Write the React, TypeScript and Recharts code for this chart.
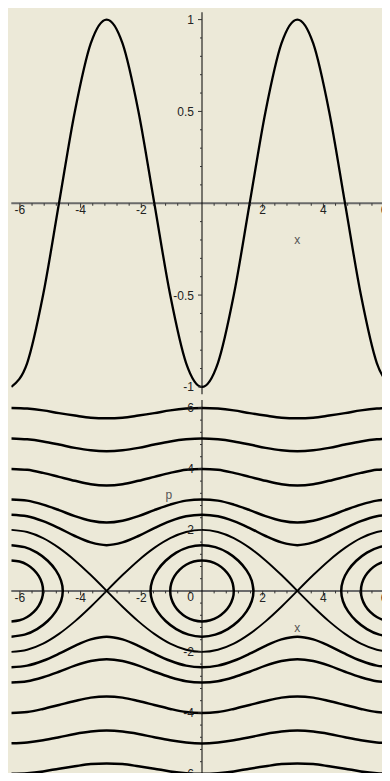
import React from 'react';
import { ComposedChart, Line, Scatter, XAxis, YAxis, ReferenceLine } from 'recharts';

// ---------- data ----------

// sample positions along x, steps of pi/6 from -2pi to 2pi
const xGrid = [
  -6.283, -5.76, -5.236, -4.712, -4.189, -3.665, -3.142, -2.618, -2.094, -1.571, -1.047, -0.524,
  0, 0.524, 1.047, 1.571, 2.094, 2.618, 3.142, 3.665, 4.189, 4.712, 5.236, 5.76, 6.283,
];

// top panel: the potential curve
const potential = [
  -1, -0.87, -0.5, 0, 0.5, 0.87, 1, 0.87, 0.5, 0, -0.5, -0.87,
  -1, -0.87, -0.5, 0, 0.5, 0.87, 1, 0.87, 0.5, 0, -0.5, -0.87, -1,
];

// bottom panel: running (open) trajectories p(x)
const p6 = [6, 5.98, 5.92, 5.83, 5.75, 5.68, 5.66, 5.68, 5.75, 5.83, 5.92, 5.98, 6, 5.98, 5.92, 5.83, 5.75, 5.68, 5.66, 5.68, 5.75, 5.83, 5.92, 5.98, 6];
const p5 = [5, 4.97, 4.9, 4.8, 4.69, 4.61, 4.58, 4.61, 4.69, 4.8, 4.9, 4.97, 5, 4.97, 4.9, 4.8, 4.69, 4.61, 4.58, 4.61, 4.69, 4.8, 4.9, 4.97, 5];
const p4 = [4, 3.97, 3.87, 3.74, 3.61, 3.5, 3.46, 3.5, 3.61, 3.74, 3.87, 3.97, 4, 3.97, 3.87, 3.74, 3.61, 3.5, 3.46, 3.5, 3.61, 3.74, 3.87, 3.97, 4];
const p3 = [3, 2.96, 2.83, 2.65, 2.45, 2.3, 2.24, 2.3, 2.45, 2.65, 2.83, 2.96, 3, 2.96, 2.83, 2.65, 2.45, 2.3, 2.24, 2.3, 2.45, 2.65, 2.83, 2.96, 3];
const p25 = [2.5, 2.45, 2.29, 2.06, 1.8, 1.59, 1.5, 1.59, 1.8, 2.06, 2.29, 2.45, 2.5, 2.45, 2.29, 2.06, 1.8, 1.59, 1.5, 1.59, 1.8, 2.06, 2.29, 2.45, 2.5];
const m25 = [-2.5, -2.45, -2.29, -2.06, -1.8, -1.59, -1.5, -1.59, -1.8, -2.06, -2.29, -2.45, -2.5, -2.45, -2.29, -2.06, -1.8, -1.59, -1.5, -1.59, -1.8, -2.06, -2.29, -2.45, -2.5];
const m3 = [-3, -2.96, -2.83, -2.65, -2.45, -2.3, -2.24, -2.3, -2.45, -2.65, -2.83, -2.96, -3, -2.96, -2.83, -2.65, -2.45, -2.3, -2.24, -2.3, -2.45, -2.65, -2.83, -2.96, -3];
const m4 = [-4, -3.97, -3.87, -3.74, -3.61, -3.5, -3.46, -3.5, -3.61, -3.74, -3.87, -3.97, -4, -3.97, -3.87, -3.74, -3.61, -3.5, -3.46, -3.5, -3.61, -3.74, -3.87, -3.97, -4];
const m5 = [-5, -4.97, -4.9, -4.8, -4.69, -4.61, -4.58, -4.61, -4.69, -4.8, -4.9, -4.97, -5, -4.97, -4.9, -4.8, -4.69, -4.61, -4.58, -4.61, -4.69, -4.8, -4.9, -4.97, -5];
const m6 = [-6, -5.98, -5.92, -5.83, -5.75, -5.68, -5.66, -5.68, -5.75, -5.83, -5.92, -5.98, -6, -5.98, -5.92, -5.83, -5.75, -5.68, -5.66, -5.68, -5.75, -5.83, -5.92, -5.98, -6];

// separatrix branches (meet at x = ±pi, p = 0)
const sepUpper = [2, 1.93, 1.73, 1.41, 1, 0.52, 0, 0.52, 1, 1.41, 1.73, 1.93, 2, 1.93, 1.73, 1.41, 1, 0.52, 0, 0.52, 1, 1.41, 1.73, 1.93, 2];
const sepLower = [-2, -1.93, -1.73, -1.41, -1, -0.52, 0, -0.52, -1, -1.41, -1.73, -1.93, -2, -1.93, -1.73, -1.41, -1, -0.52, 0, -0.52, -1, -1.41, -1.73, -1.93, -2];

// closed orbits around the origin (loop, first segment repeated to close smoothly)
const innerOrbitX = [1.047, 1.012, 0.907, 0.741, 0.524, 0.271, 0, -0.271, -0.524, -0.741, -0.907, -1.012, -1.047, -1.012, -0.907, -0.741, -0.524, -0.271, 0, 0.271, 0.524, 0.741, 0.907, 1.012, 1.047, 1.012];
const innerOrbitP = [0, 0.247, 0.482, 0.69, 0.856, 0.963, 1, 0.963, 0.856, 0.69, 0.482, 0.247, 0, -0.247, -0.482, -0.69, -0.856, -0.963, -1, -0.963, -0.856, -0.69, -0.482, -0.247, 0, 0.247];
const outerOrbitX = [1.696, 1.638, 1.469, 1.199, 0.848, 0.439, 0, -0.439, -0.848, -1.199, -1.469, -1.638, -1.696, -1.638, -1.469, -1.199, -0.848, -0.439, 0, 0.439, 0.848, 1.199, 1.469, 1.638, 1.696, 1.638];
const outerOrbitP = [0, 0.339, 0.673, 0.988, 1.254, 1.435, 1.5, 1.435, 1.254, 0.988, 0.673, 0.339, 0, -0.339, -0.673, -0.988, -1.254, -1.435, -1.5, -1.435, -1.254, -0.988, -0.673, -0.339, 0, 0.339];

// halves of the closed orbits around x = -2pi and x = 2pi
const leftInnerX = [-6.283, -6.012, -5.759, -5.542, -5.376, -5.271, -5.236, -5.271, -5.376, -5.542, -5.759, -6.012, -6.283];
const leftOuterX = [-6.283, -5.844, -5.435, -5.084, -4.814, -4.645, -4.587, -4.645, -4.814, -5.084, -5.435, -5.844, -6.283];
const rightInnerX = [6.283, 6.012, 5.759, 5.542, 5.376, 5.271, 5.236, 5.271, 5.376, 5.542, 5.759, 6.012, 6.283];
const rightOuterX = [6.283, 5.844, 5.435, 5.084, 4.814, 4.645, 4.587, 4.645, 4.814, 5.084, 5.435, 5.844, 6.283];
const halfInnerP = [1, 0.963, 0.856, 0.69, 0.482, 0.247, 0, -0.247, -0.482, -0.69, -0.856, -0.963, -1];
const halfOuterP = [1.5, 1.435, 1.254, 0.988, 0.673, 0.339, 0, -0.339, -0.673, -0.988, -1.254, -1.435, -1.5];

// axes: ticks and labels
const xMajorTicks = [-6, -4, -2, 2, 4, 6];
const xMinorTicks = [-5.6, -5.2, -4.8, -4.4, -3.6, -3.2, -2.8, -2.4, -1.6, -1.2, -0.8, -0.4, 0.4, 0.8, 1.2, 1.6, 2.4, 2.8, 3.2, 3.6, 4.4, 4.8, 5.2, 5.6];
const xTickLabels = ['-6', '-4', '-2', '2', '4', '6'];

const topYMajorTicks = [-1, -0.5, 0.5, 1];
const topYMinorTicks = [-0.9, -0.8, -0.7, -0.6, -0.4, -0.3, -0.2, -0.1, 0.1, 0.2, 0.3, 0.4, 0.6, 0.7, 0.8, 0.9];
const topYTickLabels = ['-1', '-0.5', '0.5', '1'];

const bottomYMajorTicks = [-6, -4, -2, 2, 4, 6];
const bottomYMinorTicks = [-5.6, -5.2, -4.8, -4.4, -3.6, -3.2, -2.8, -2.4, -1.6, -1.2, -0.8, -0.4, 0.4, 0.8, 1.2, 1.6, 2.4, 2.8, 3.2, 3.6, 4.4, 4.8, 5.2, 5.6];
const bottomYTickLabels = ['-6', '-4', '-2', '2', '4', '6'];
const originLabel = '0';

const topAxisTitles = [{ x: 3.14, y: -0.223, text: 'x' }];
const bottomAxisTitles = [
  { x: 3.14, y: -1.36, text: 'x' },
  { x: -1.09, y: 3.0, text: 'p' },
];

// ---------- helpers ----------

const zip = (xs: number[], ys: number[]) => xs.map((x, i) => ({ x, y: ys[i] }));

// split a curve into pieces at the points where it touches p = 0
const splitAtZeros = (pts: { x: number; y: number }[]) => {
  const parts: { x: number; y: number }[][] = [];
  let cur: { x: number; y: number }[] = [];
  pts.forEach((pt, i) => {
    cur.push(pt);
    if (pt.y === 0 && i > 0 && i < pts.length - 1) {
      parts.push(cur);
      cur = [pt];
    }
  });
  parts.push(cur);
  return parts;
};

const onAxisX = (xs: number[], texts?: string[]) => xs.map((x, i) => ({ x, y: 0, text: texts ? texts[i] : '' }));
const onAxisY = (ys: number[], texts?: string[]) => ys.map((y, i) => ({ x: 0, y, text: texts ? texts[i] : '' }));

const FONT = '"Liberation Sans", Arial, sans-serif';
const TICK_COLOR = '#333';
const LABEL_COLOR = '#222';
const TITLE_COLOR = '#555';

const xTickShape = (len: number) => (props: any) => (
  <line x1={props.cx} y1={props.cy} x2={props.cx} y2={props.cy + len} stroke={TICK_COLOR} strokeWidth={1} />
);
const yTickShape = (len: number) => (props: any) => (
  <line x1={props.cx - len} y1={props.cy} x2={props.cx} y2={props.cy} stroke={TICK_COLOR} strokeWidth={1} />
);
const textShape = (dx: number, dy: number, anchor: 'start' | 'middle' | 'end', color: string) => (props: any) => (
  <text
    x={props.cx + dx}
    y={props.cy + dy}
    textAnchor={anchor}
    fontFamily={FONT}
    fontSize={12}
    fill={color}
  >
    {props.payload.text}
  </text>
);

const curveProps = {
  dataKey: 'y',
  stroke: '#000',
  dot: false,
  activeDot: false,
  isAnimationActive: false,
  legendType: 'none' as const,
};

const CHART_W = 388;
const SIDE = 3.3;
const X_DOMAIN: [number, number] = [-6.2832, 6.2832];

// ---------- panels ----------

function PotentialPanel() {
  return (
    <ComposedChart width={CHART_W} height={390} margin={{ top: 4.25, right: SIDE, bottom: 3.75, left: SIDE }}>
      <XAxis type="number" dataKey="x" domain={X_DOMAIN} allowDataOverflow hide />
      <YAxis type="number" dataKey="y" domain={[-1.04, 1.04]} allowDataOverflow hide />
      <ReferenceLine y={0} stroke="#6a6a6a" strokeWidth={2} />
      <ReferenceLine x={0} stroke="#000" strokeWidth={1} />
      <Scatter data={onAxisX(xMinorTicks)} dataKey="y" shape={xTickShape(2.5)} isAnimationActive={false} />
      <Scatter data={onAxisX(xMajorTicks)} dataKey="y" shape={xTickShape(4.5)} isAnimationActive={false} />
      <Scatter data={onAxisY(topYMinorTicks)} dataKey="y" shape={yTickShape(2)} isAnimationActive={false} />
      <Scatter data={onAxisY(topYMajorTicks)} dataKey="y" shape={yTickShape(4)} isAnimationActive={false} />
      <Scatter data={onAxisX(xMajorTicks, xTickLabels)} dataKey="y" shape={textShape(0, 11, 'middle', LABEL_COLOR)} isAnimationActive={false} />
      <Scatter data={onAxisY(topYMajorTicks, topYTickLabels)} dataKey="y" shape={textShape(-8, 4.5, 'end', LABEL_COLOR)} isAnimationActive={false} />
      <Scatter data={topAxisTitles} dataKey="y" shape={textShape(0, 0, 'middle', TITLE_COLOR)} isAnimationActive={false} />
      <Line {...curveProps} data={zip(xGrid, potential)} type="monotone" strokeWidth={2.3} />
    </ComposedChart>
  );
}

function PhasePanel() {
  const open = [p6, p5, p4, p3, p25, m25, m3, m4, m5, m6];
  const separatrix = [...splitAtZeros(zip(xGrid, sepUpper)), ...splitAtZeros(zip(xGrid, sepLower))];
  const loops = [zip(innerOrbitX, innerOrbitP), zip(outerOrbitX, outerOrbitP)];
  const halves = [
    zip(leftInnerX, halfInnerP),
    zip(leftOuterX, halfOuterP),
    zip(rightInnerX, halfInnerP),
    zip(rightOuterX, halfOuterP),
  ];
  return (
    <ComposedChart width={CHART_W} height={386} margin={{ top: 2, right: SIDE, bottom: 2.2, left: SIDE }}>
      <XAxis type="number" dataKey="x" domain={X_DOMAIN} allowDataOverflow hide />
      <YAxis type="number" dataKey="y" domain={[-6.26, 6.26]} allowDataOverflow hide />
      <ReferenceLine y={0} stroke="#6a6a6a" strokeWidth={2} />
      <ReferenceLine x={0} stroke="#000" strokeWidth={1} />
      <Scatter data={onAxisX(xMinorTicks)} dataKey="y" shape={xTickShape(2.5)} isAnimationActive={false} />
      <Scatter data={onAxisX(xMajorTicks)} dataKey="y" shape={xTickShape(4.5)} isAnimationActive={false} />
      <Scatter data={onAxisY(bottomYMinorTicks)} dataKey="y" shape={yTickShape(2)} isAnimationActive={false} />
      <Scatter data={onAxisY(bottomYMajorTicks)} dataKey="y" shape={yTickShape(4)} isAnimationActive={false} />
      <Scatter data={onAxisX(xMajorTicks, xTickLabels)} dataKey="y" shape={textShape(0, 11, 'middle', LABEL_COLOR)} isAnimationActive={false} />
      <Scatter data={onAxisY(bottomYMajorTicks, bottomYTickLabels)} dataKey="y" shape={textShape(-8, 4.5, 'end', LABEL_COLOR)} isAnimationActive={false} />
      <Scatter data={onAxisY([0], [originLabel])} dataKey="y" shape={textShape(-8, 10.5, 'end', LABEL_COLOR)} isAnimationActive={false} />
      <Scatter data={bottomAxisTitles} dataKey="y" shape={textShape(0, 0, 'middle', TITLE_COLOR)} isAnimationActive={false} />
      {open.map((vals, i) => (
        <Line key={`open-${i}`} {...curveProps} data={zip(xGrid, vals)} type="monotone" strokeWidth={2.5} />
      ))}
      {separatrix.map((pts, i) => (
        <Line key={`sep-${i}`} {...curveProps} data={pts} type="monotone" strokeWidth={1.9} />
      ))}
      {loops.map((pts, i) => (
        <Line key={`loop-${i}`} {...curveProps} data={pts} type="natural" strokeWidth={2.5} />
      ))}
      {halves.map((pts, i) => (
        <Line key={`half-${i}`} {...curveProps} data={pts} type="natural" strokeWidth={2.5} />
      ))}
    </ComposedChart>
  );
}

export default function App() {
  return (
    <div
      style={{
        width: 382,
        height: 773,
        marginBottom: -8,
        overflow: 'hidden',
        background: '#ECE9D8',
      }}
    >
      <PotentialPanel />
      <PhasePanel />
    </div>
  );
}
